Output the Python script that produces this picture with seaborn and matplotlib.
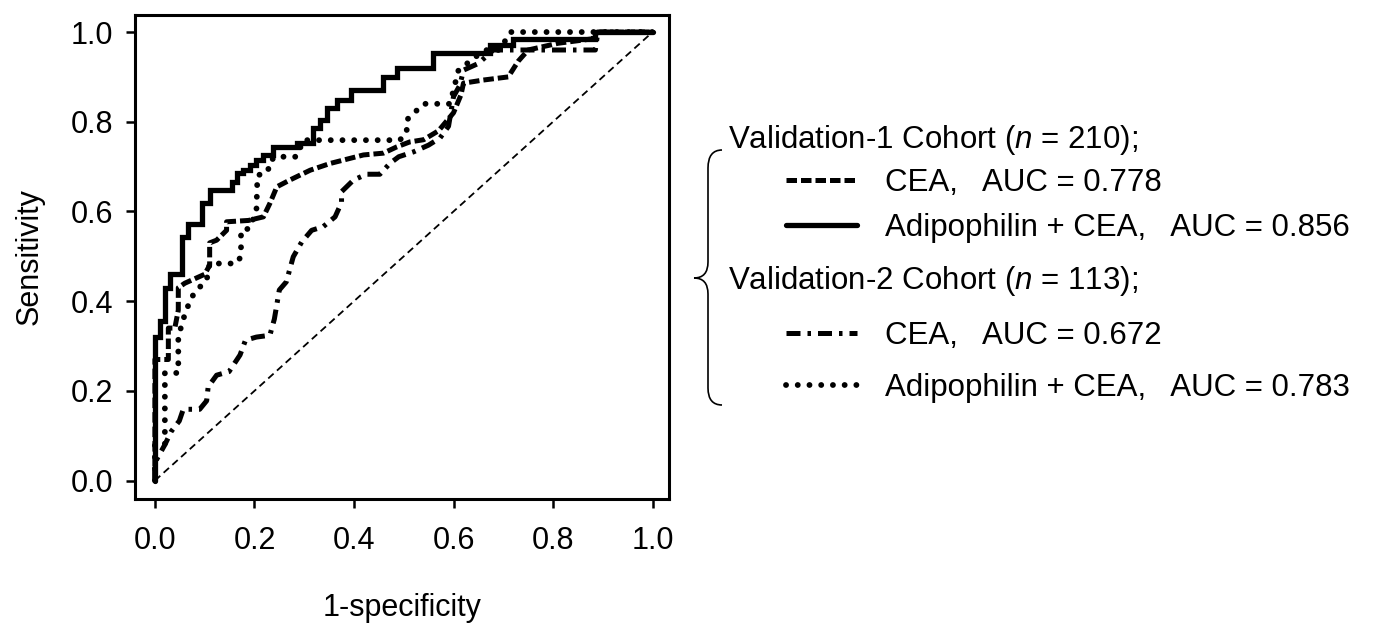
import numpy as np
import pandas as pd
import seaborn as sns
import matplotlib
matplotlib.use("Agg")
import matplotlib.pyplot as plt
from matplotlib.path import Path
from matplotlib.patches import PathPatch

sns.set_theme(style="ticks")
plt.rcParams["font.family"] = ["Liberation Sans", "DejaVu Sans"]
plt.rcParams["mathtext.fontset"] = "custom"
plt.rcParams["mathtext.rm"] = "Liberation Sans"
plt.rcParams["mathtext.it"] = "Liberation Sans:italic"

# ROC curves (1-specificity, sensitivity)
v1_cea_fpr = [0, 0, 0.027, 0.027, 0.04, 0.047, 0.047, 0.06, 0.08, 0.10, 0.11, 0.11, 0.124, 0.144,
              0.144, 0.188, 0.218, 0.231, 0.245, 0.271, 0.312, 0.352, 0.419, 0.459, 0.486, 0.512,
              0.54, 0.57, 0.60, 0.615, 0.62, 0.66, 0.71, 0.73, 0.75, 0.81, 0.88, 0.89, 1.0]
v1_cea_tpr = [0, 0.27, 0.27, 0.34, 0.34, 0.38, 0.43, 0.44, 0.45, 0.46, 0.48, 0.53, 0.536, 0.558,
              0.577, 0.58, 0.588, 0.618, 0.655, 0.67, 0.692, 0.707, 0.726, 0.73, 0.744, 0.755,
              0.76, 0.78, 0.82, 0.86, 0.886, 0.893, 0.90, 0.935, 0.96, 0.975, 0.985, 1.0, 1.0]

v1_combo_fpr = [0, 0, 0.01, 0.01, 0.02, 0.02, 0.03, 0.03, 0.055, 0.055, 0.067, 0.067, 0.094, 0.094,
                0.11, 0.11, 0.154, 0.154, 0.164, 0.164, 0.178, 0.178, 0.191, 0.191, 0.204, 0.204,
                0.218, 0.218, 0.238, 0.238, 0.285, 0.285, 0.318, 0.318, 0.331, 0.331, 0.345, 0.345,
                0.365, 0.365, 0.395, 0.395, 0.459, 0.459, 0.486, 0.486, 0.559, 0.559, 0.673, 0.673,
                0.72, 0.72, 0.885, 0.885, 1.0]
v1_combo_tpr = [0, 0.32, 0.32, 0.355, 0.355, 0.43, 0.43, 0.46, 0.46, 0.544, 0.544, 0.573, 0.573, 0.618,
                0.618, 0.648, 0.648, 0.666, 0.666, 0.685, 0.685, 0.692, 0.692, 0.703, 0.703, 0.715,
                0.715, 0.726, 0.726, 0.744, 0.744, 0.752, 0.752, 0.785, 0.785, 0.804, 0.804, 0.83,
                0.83, 0.848, 0.848, 0.871, 0.871, 0.90, 0.90, 0.919, 0.919, 0.953, 0.953, 0.971,
                0.971, 0.985, 0.985, 1.0, 1.0]

v2_cea_fpr = [0, 0, 0.02, 0.033, 0.049, 0.057, 0.09, 0.104, 0.107, 0.124, 0.149, 0.171, 0.182, 0.204,
              0.231, 0.24, 0.25, 0.264, 0.278, 0.295, 0.315, 0.338, 0.362, 0.375, 0.375, 0.399, 0.425,
              0.452, 0.472, 0.49, 0.52, 0.55, 0.573, 0.59, 0.60, 0.613, 0.62, 0.65, 0.68, 0.885, 0.89, 1.0]
v2_cea_tpr = [0, 0.04, 0.08, 0.11, 0.133, 0.159, 0.159, 0.178, 0.209, 0.235, 0.243, 0.28, 0.313, 0.32,
              0.324, 0.36, 0.425, 0.443, 0.499, 0.532, 0.558, 0.566, 0.588, 0.62, 0.644, 0.67, 0.683,
              0.683, 0.707, 0.722, 0.733, 0.748, 0.764, 0.79, 0.856, 0.882, 0.915, 0.93, 0.96, 0.96, 1.0, 1.0]

v2_combo_fpr = [0, 0, 0.02, 0.02, 0.047, 0.047, 0.057, 0.07, 0.08, 0.104, 0.11, 0.164, 0.173, 0.173,
                0.19, 0.204, 0.206, 0.228, 0.228, 0.241, 0.285, 0.298, 0.492, 0.506, 0.506, 0.54,
                0.593, 0.61, 0.653, 0.667, 0.693, 0.714, 1.0]
v2_combo_tpr = [0, 0.08, 0.08, 0.24, 0.24, 0.32, 0.36, 0.40, 0.42, 0.447, 0.484, 0.484, 0.50, 0.558,
                0.562, 0.603, 0.68, 0.69, 0.707, 0.722, 0.722, 0.759, 0.759, 0.775, 0.804, 0.84,
                0.84, 0.915, 0.952, 0.96, 0.96, 1.0, 1.0]

chance = [0.0, 1.0]

cohort_titles = ["Validation-1 Cohort ($n$ = 210);", "Validation-2 Cohort ($n$ = 113);"]
marker_names = ["CEA", "Adipophilin + CEA", "CEA", "Adipophilin + CEA"]
auc_values = [0.778, 0.856, 0.672, 0.783]

styles = [
    dict(linestyle=(0, (2.1, 0.8)), linewidth=3.6),
    dict(linestyle="-", linewidth=3.8),
    dict(linestyle=(0, (2.8, 1.4, 0.7, 1.4)), linewidth=3.6),
    dict(linestyle=(0, (0.01, 2.0)), linewidth=4.2, dash_capstyle="round"),
]
curves = [(v1_cea_fpr, v1_cea_tpr), (v1_combo_fpr, v1_combo_tpr),
          (v2_cea_fpr, v2_cea_tpr), (v2_combo_fpr, v2_combo_tpr)]

fig = plt.figure(figsize=(13.83, 6.3), dpi=100)
ax = fig.add_axes([135 / 1383, 1 - 499 / 630, 534 / 1383, 484 / 630])

sns.lineplot(x=chance, y=chance, ax=ax, color="black", linewidth=1.3,
             linestyle=(0, (4.0, 2.5)), sort=False, estimator=None)
for (fpr, tpr), st in zip(curves, styles):
    sns.lineplot(x=fpr, y=tpr, ax=ax, color="black", sort=False, estimator=None,
                 solid_joinstyle="miter", **st)

ax.set_xlim(-0.04, 1.033)
ax.set_ylim(-0.041, 1.038)
ticks = [0.0, 0.2, 0.4, 0.6, 0.8, 1.0]
ax.set_xticks(ticks)
ax.set_yticks(ticks)
ax.set_xticklabels([f"{t:.1f}" for t in ticks])
ax.set_yticklabels([f"{t:.1f}" for t in ticks])
ax.tick_params(axis="both", labelsize=22, length=6.5, width=1.8, color="black",
               labelcolor="black", direction="out")
ax.tick_params(axis="x", pad=13)
ax.tick_params(axis="y", pad=9)
for sp in ax.spines.values():
    sp.set_visible(True)
    sp.set_linewidth(2.2)
    sp.set_color("black")
ax.set_xlabel("1-specificity", fontsize=22, color="black")
ax.set_ylabel("Sensitivity", fontsize=22, color="black")
ax.xaxis.set_label_coords(0.5, -0.195)
ax.yaxis.set_label_coords(-0.17, 0.5)

# legend block drawn in figure pixel space
lg = fig.add_axes([0, 0, 1, 1], facecolor="none")
lg.set_xlim(0, 1383)
lg.set_ylim(630, 0)
lg.axis("off")

brace = Path(
    [(722, 150), (708, 150), (708, 168), (708, 262), (708, 278), (694, 278),
     (708, 278), (708, 294), (708, 388), (708, 405), (722, 405)],
    [Path.MOVETO, Path.CURVE3, Path.CURVE3, Path.LINETO, Path.CURVE3, Path.CURVE3,
     Path.CURVE3, Path.CURVE3, Path.LINETO, Path.CURVE3, Path.CURVE3])
lg.add_patch(PathPatch(brace, facecolor="none", edgecolor="black", linewidth=1.2))

header_y = [148, 289]
row_y = [191, 236, 344, 396]
for title, y in zip(cohort_titles, header_y):
    lg.text(728, y, title, fontsize=22.5, va="baseline", ha="left", color="black")
for i, (name, auc) in enumerate(zip(marker_names, auc_values)):
    y = row_y[i]
    lg.plot([786, 857], [y - 11, y - 11], color="black", **styles[i])
    lg.text(885, y, f"{name},   AUC = {auc:.3f}", fontsize=22.5, va="baseline",
            ha="left", color="black")

fig.savefig("out.png", dpi=100)
